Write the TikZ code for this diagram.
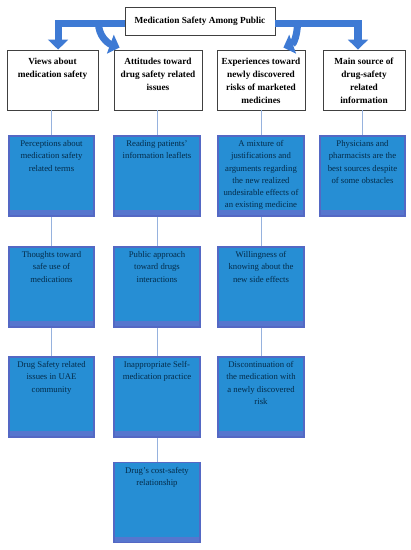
\documentclass[tikz,border=0pt]{standalone}
\usepackage{fontspec}
\setmainfont{Liberation Serif}
\usepackage{xcolor}
\usetikzlibrary{positioning, arrows.meta, calc}
\definecolor{MSBlue}{RGB}{38,142,212}
\definecolor{MSEdge}{RGB}{84,104,196}
\definecolor{MSBand}{RGB}{86,118,206}
\definecolor{MSArrow}{RGB}{62,122,212}
\definecolor{MSLink}{RGB}{150,178,222}
\definecolor{MSInk}{RGB}{4,44,74}

\begin{document}
\begin{tikzpicture}[x=0.025cm, y=-0.025cm,
          hdr/.style={rectangle, draw=black!75, line width=0.6pt, fill=white,
                      minimum height=1.5cm, inner sep=0pt},
          blu/.style={rectangle, draw=MSEdge, line width=0.8pt, fill=MSBlue,
                      minimum height=2cm, minimum width=2.15cm, inner sep=0pt,
                      path picture={\fill[MSBand]
                        (path picture bounding box.south west) rectangle
                        ([yshift=0.15cm]path picture bounding box.south east);}},
          htxt/.style={font=\fontsize{6.6}{9.2}\selectfont\bfseries,
                       align=center, anchor=north, inner sep=0pt},
          btxt/.style={font=\fontsize{6.2}{8.7}\selectfont, text=MSInk,
                       align=center, anchor=north, inner sep=0pt},
          link/.style={MSLink, line width=0.7pt},
          bigarr/.style={-{Triangle[width=14pt, length=7pt]}, line width=5pt,
                         MSArrow, line join=miter}
        ]
        \useasboundingbox (0,0) rectangle (410,550);

        % title
        \node[hdr, minimum width=3.75cm, minimum height=0.7cm,
              font=\fontsize{6.6}{9.2}\selectfont\bfseries]
              (title) at (200,21) {Medication Safety Among Public};

        % headers
        \node[hdr, minimum width=2.275cm] (hd1) at (52.5,80) {};
        \node[hdr, minimum width=2.2cm]   (hd2) at (158,80) {};
        \node[hdr, minimum width=2.2cm]   (hd3) at (261,80) {};
        \node[hdr, minimum width=2.05cm]  (hd4) at (364,80) {};
        \node[htxt] (hd1t) at ([yshift=-0.2cm]hd1.north) {Views about\\medication safety};
        \node[htxt] (hd2t) at ([yshift=-0.2cm]hd2.north) {Attitudes toward\\drug safety related\\issues};
        \node[htxt] (hd3t) at ([yshift=-0.2cm]hd3.north) {Experiences toward\\newly discovered\\risks of marketed\\medicines};
        \node[htxt] (hd4t) at ([yshift=-0.2cm]hd4.north) {Main source of\\drug-safety\\related\\information};

        % column 1
        \node[blu, minimum width=2.125cm] (va) at (51.5,176) {};
        \node[blu, minimum width=2.125cm] (vb) at (51.5,287) {};
        \node[blu, minimum width=2.125cm] (vc) at (51.5,397) {};
        % column 2
        \node[blu] (aa) at (157,176) {};
        \node[blu] (ab) at (157,287) {};
        \node[blu] (ac) at (157,397) {};
        \node[blu] (ad) at (157,502.5) {};
        % column 3
        \node[blu] (ea) at (261,176) {};
        \node[blu] (eb) at (261,287) {};
        \node[blu] (ec) at (261,397) {};
        % column 4
        \node[blu, minimum width=2.125cm] (sa) at (362.5,176) {};

        \node[btxt] (vat) at ([yshift=-0.12cm]va.north) {Perceptions about\\medication safety\\related terms};
        \node[btxt] (vbt) at ([yshift=-0.12cm]vb.north) {Thoughts toward\\safe use of\\medications};
        \node[btxt] (vct) at ([yshift=-0.12cm]vc.north) {Drug Safety related\\issues in UAE\\community};
        \node[btxt] (aat) at ([yshift=-0.12cm]aa.north) {Reading patients'\\information leaflets};
        \node[btxt] (abt) at ([yshift=-0.12cm]ab.north) {Public approach\\toward drugs\\interactions};
        \node[btxt] (act) at ([yshift=-0.12cm]ac.north) {Inappropriate Self-\\medication practice};
        \node[btxt] (adt) at ([yshift=-0.12cm]ad.north) {Drug's cost-safety\\relationship};
        \node[btxt] (eat) at ([yshift=-0.12cm]ea.north) {A mixture of\\justifications and\\arguments regarding\\the new realized\\undesirable effects of\\an existing medicine};
        \node[btxt] (ebt) at ([yshift=-0.12cm]eb.north) {Willingness of\\knowing about the\\new side effects};
        \node[btxt] (ect) at ([yshift=-0.12cm]ec.north) {Discontinuation of\\the medication with\\a newly discovered\\risk};
        \node[btxt] (sat) at ([yshift=-0.12cm]sa.north) {Physicians and\\pharmacists are the\\best sources despite\\of some obstacles};

        \foreach \a/\b in {hd1/va, va/vb, vb/vc, hd2/aa, aa/ab, ab/ac, ac/ad,
                           hd3/ea, ea/eb, eb/ec, hd4/sa} {
          \draw[link] (\b.north |- \a.south) -- (\b.north);
        }

        % block arrows from the title
        \coordinate (lcurl) at ([xshift=-0.65cm, yshift=-0.06cm]title.west);
        \coordinate (rcurl) at ([xshift=0.55cm, yshift=-0.06cm]title.east);
        \draw[bigarr] ([yshift=-0.06cm]title.west) -| ([xshift=0.14cm]hd1.north);
        \draw[bigarr] ([yshift=-0.06cm]title.east) -| ([xshift=-0.15cm]hd4.north);
        \draw[bigarr] (lcurl) to[out=-90, in=160] ([xshift=0.15cm, yshift=0.05cm]hd2.north west);
        \draw[bigarr] (rcurl) to[out=-90, in=20] ([xshift=-0.55cm, yshift=0.05cm]hd3.north east);
      \end{tikzpicture}
\end{document}
